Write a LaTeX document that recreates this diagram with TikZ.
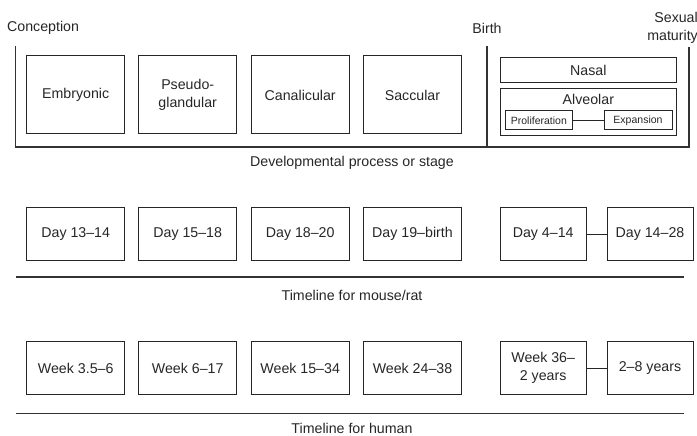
\documentclass[tikz,border=0pt]{standalone}
\usepackage{fontspec}
\setmainfont{Liberation Sans}
\begin{document}
\begin{tikzpicture}[x=1pt,y=-1pt,
  every node/.style={font=\fontsize{14.2}{17.5}\selectfont, text=black!85, inner sep=0pt},
  stage/.style={draw=black!85, line width=1pt, minimum width=98pt, minimum height=78pt, align=center},
  tbox/.style={draw=black!85, line width=1pt, minimum width=98pt, minimum height=53pt, align=center},
  tbox2/.style={draw=black!85, line width=1pt, minimum width=86pt, minimum height=53pt, align=center},
  small/.style={draw=black!85, line width=1pt, font=\fontsize{10.5}{12}\selectfont, minimum height=19pt},
  axis/.style={draw=black!80, line width=1.2pt},
  conn/.style={draw=black!85, line width=1pt}]
\useasboundingbox (0,0) rectangle (697,436);

% labels top
\node[anchor=west] (conc) at (7,28) {Conception};
\node (birthl) at (487,28) {Birth};
\node[anchor=east, align=right] (sex) at (698,28) {Sexual\\maturity};

% frame
\coordinate (tl) at (15.5,46);
\coordinate (bl) at (15.5,147);
\coordinate (br) at (689,147);
\coordinate (tr) at (689,47);
\coordinate (bt) at (487,46);
\coordinate (bb) at (487,147);
\draw[axis] (tl) -- (bl) -- (br) -- (tr);
\draw[axis] (bt) -- (bb);

% stage boxes
\node[stage] (emb) at (75.7,95) {Embryonic};
\node[stage] (pse) at (187.7,95) {Pseudo-\\glandular};
\node[stage] (can) at (300.2,95) {Canalicular};
\node[stage] (sac) at (412.5,95) {Saccular};

\node[draw=black!85, line width=1pt, minimum width=175.3pt, minimum height=24.3pt] (nas) at (588.35,70) {Nasal};
\node[draw=black!85, line width=1pt, minimum width=175.3pt, minimum height=47.4pt] (alv) at (588.35,112) {};
\node (alvl) at (588.35,99) {Alveolar};
\node[small, minimum width=67.7pt] (pro) at (538.85,120.5) {Proliferation};
\node[small, minimum width=68pt] (exp) at (638,120.5) {Expansion};
\draw[conn] (pro) -- (exp);

\node (dev) at (352,163) {Developmental process or stage};

% mouse/rat
\node[tbox] (d1) at (75.7,234) {Day 13–14};
\node[tbox] (d2) at (187.7,234) {Day 15–18};
\node[tbox] (d3) at (300.2,234) {Day 18–20};
\node[tbox] (d4) at (412.5,234) {Day 19–birth};
\node[tbox2] (d5) at (543.2,234) {Day 4–14};
\node[tbox2] (d6) at (650,234) {Day 14–28};
\draw[conn] (d5) -- (d6);
\coordinate (m1) at (15.5,277);
\coordinate (m2) at (684,277);
\draw[axis] (m1) -- (m2);
\node (ml) at (352,295) {Timeline for mouse/rat};

% human
\node[tbox] (w1) at (75.7,368) {Week 3.5–6};
\node[tbox] (w2) at (187.7,368) {Week 6–17};
\node[tbox] (w3) at (300.2,368) {Week 15–34};
\node[tbox] (w4) at (412.5,368) {Week 24–38};
\node[tbox2] (w5) at (543.2,368) {Week 36–\\2 years};
\node[tbox2] (w6) at (650,368) {2–8 years};
\draw[conn] (w5) -- (w6);
\coordinate (h1) at (15.5,413.3);
\coordinate (h2) at (684,413.3);
\draw[axis] (h1) -- (h2);
\node (hl) at (352,428.5) {Timeline for human};
\end{tikzpicture}
\end{document}
